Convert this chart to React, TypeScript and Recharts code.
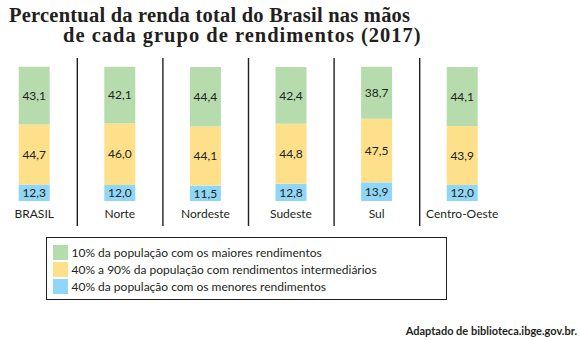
import { BarChart, Bar, XAxis, YAxis, LabelList, ReferenceLine } from 'recharts';

const categories = ['BRASIL', 'Norte', 'Nordeste', 'Sudeste', 'Sul', 'Centro-Oeste'];
const top10 = [43.1, 42.1, 44.4, 42.4, 38.7, 44.1];
const middle = [44.7, 46.0, 44.1, 44.8, 47.5, 43.9];
const bottom40 = [12.3, 12.0, 11.5, 12.8, 13.9, 12.0];

const legendLabels = [
  '10% da população com os maiores rendimentos',
  '40% a 90% da população com rendimentos intermediários',
  '40% da população com os menores rendimentos',
];

const GREEN = '#b6dcae';
const YELLOW = '#fee08a';
const BLUE = '#8fd6f7';
const INK = '#231f20';
const legendColors = [GREEN, YELLOW, BLUE];

const data = categories.map((name, i) => ({
  name,
  low: bottom40[i],
  mid: middle[i],
  high: top10[i],
}));

const fmt = (v: any) => Number(v).toFixed(1).replace('.', ',');

const labelProps = { fill: INK, fontSize: 12, fontFamily: 'Lato' };

const titleStyle: React.CSSProperties = {
  position: 'absolute',
  fontFamily: '"Liberation Serif"',
  fontWeight: 'bold',
  fontSize: 20.5,
  lineHeight: '20px',
  color: INK,
  whiteSpace: 'nowrap',
};

export default function App() {
  return (
    <div style={{ position: 'absolute', left: 0, top: 0, width: 580, height: 340, background: '#fff' }}>
      <div style={{ ...titleStyle, left: 9, top: 5, letterSpacing: 0.22 }}>Percentual da renda total do Brasil nas mãos</div>
      <div style={{ ...titleStyle, left: 63, top: 25, letterSpacing: 1 }}>de cada grupo de rendimentos (2017)</div>

      <div style={{ position: 'absolute', left: -20, top: 0 }}>
        <BarChart
          width={560}
          height={240}
          data={data}
          margin={{ top: 58, right: 34.7, bottom: 14, left: 11.7 }}
          barSize={31}
        >
          <XAxis dataKey="name" hide />
          <YAxis hide type="number" domain={[-18.66, 106.72]} allowDataOverflow />
          {categories.slice(1).map((c) => (
            <ReferenceLine key={c} x={c} position="start" stroke={INK} strokeWidth={1.4} />
          ))}
          <Bar dataKey="low" stackId="a" fill={BLUE} isAnimationActive={false}>
            <LabelList dataKey="low" position="center" formatter={fmt} {...labelProps} />
            <LabelList dataKey="name" position="bottom" offset={8} {...labelProps} />
          </Bar>
          <Bar dataKey="mid" stackId="a" fill={YELLOW} isAnimationActive={false}>
            <LabelList dataKey="mid" position="center" formatter={fmt} {...labelProps} />
          </Bar>
          <Bar dataKey="high" stackId="a" fill={GREEN} isAnimationActive={false}>
            <LabelList dataKey="high" position="center" formatter={fmt} {...labelProps} />
          </Bar>
        </BarChart>
      </div>

      <div
        style={{
          position: 'absolute',
          left: 46,
          top: 237,
          width: 401,
          height: 63,
          border: `1.5px solid ${INK}`,
          boxSizing: 'border-box',
          paddingTop: 6.5,
          paddingLeft: 6,
        }}
      >
        {legendLabels.map((label, i) => (
          <div key={label} style={{ display: 'flex', alignItems: 'center', height: 15, marginBottom: 2 }}>
            <div style={{ width: 14.5, height: 15, background: legendColors[i], marginRight: 4 }} />
            <span style={{ fontFamily: 'Lato', fontSize: 12, color: INK, whiteSpace: 'nowrap' }}>{label}</span>
          </div>
        ))}
      </div>

      <div
        style={{
          position: 'absolute',
          right: 3,
          top: 324,
          fontFamily: 'Lato',
          fontWeight: 'bold',
          fontSize: 11,
          color: INK,
          whiteSpace: 'nowrap',
        }}
      >
        Adaptado de biblioteca.ibge.gov.br.
      </div>
    </div>
  );
}
